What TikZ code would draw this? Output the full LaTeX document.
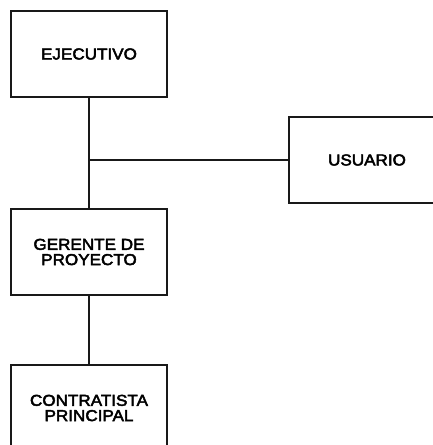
\documentclass[tikz,border=0pt]{standalone}
\usepackage{fontspec}
\newfontfamily\boxfont[FakeStretch=1.08,FakeBold=3]{Liberation Sans}
\tikzset{box/.style={draw, line width=0.06cm, minimum width=4.68cm, minimum height=2.58cm,
    inner sep=0pt, align=center, text=black, font=\boxfont\fontsize{13.5}{13}\selectfont}}

\begin{document}
\begin{tikzpicture}[x=0.03cm, y=-0.03cm, line width=0.06cm, color=black!90]
      \clip (0,0) rectangle (433,445);
      \node[box] (ejec) at (89,54) {EJECUTIVO};
      \node[box] (usu) at (367,160) {USUARIO};
      \node[box] (ger) at (89,252) {GERENTE DE\\PROYECTO};
      \node[box] (con) at (89,408) {CONTRATISTA\\PRINCIPAL};
      \coordinate (j) at (89,160);

      \draw (ejec) -- (ger) -- (con);
      \draw (j) -- (usu);
    \end{tikzpicture}
\end{document}
